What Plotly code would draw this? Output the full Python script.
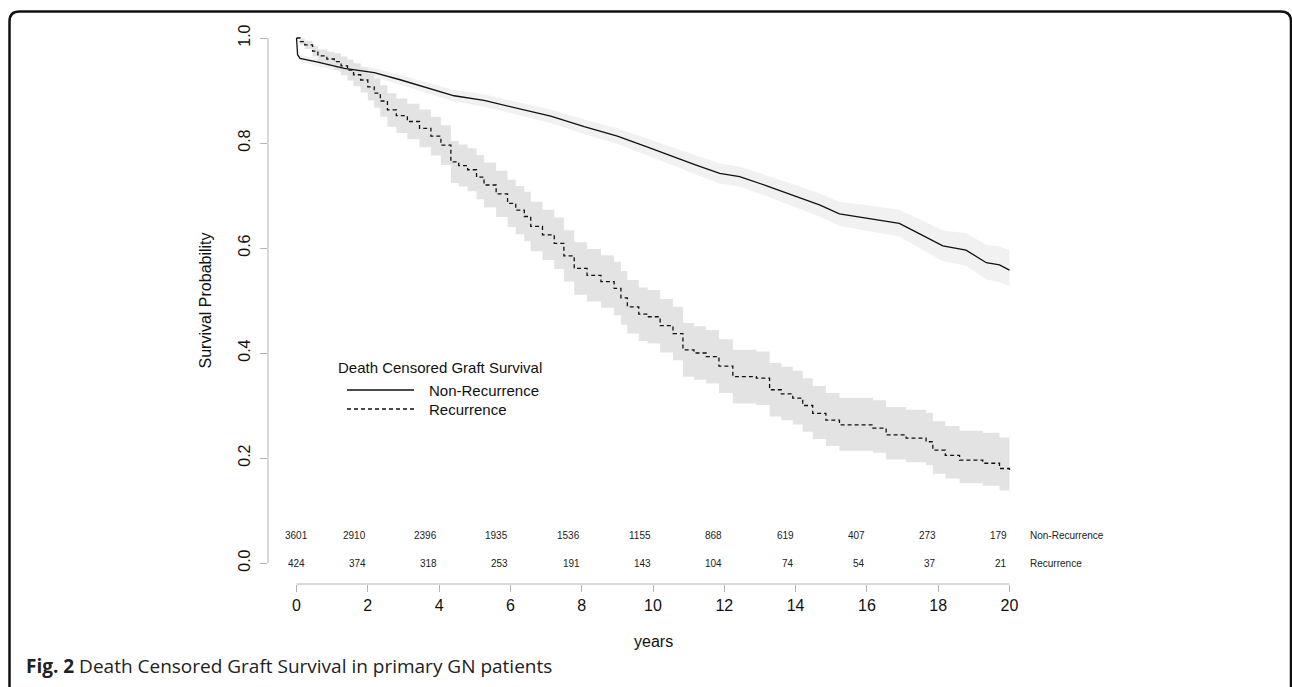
import plotly.graph_objects as go

# ---------------- data ----------------
nr_t = [0, 0.03, 0.1, 0.6, 1.34, 2.18, 2.93, 3.86, 4.42, 5.26, 5.92, 6.67, 7.13, 8.07, 9.0, 9.85,
        10.56, 11.21, 11.87, 12.43, 13.17, 13.92, 14.67, 15.23, 16.17, 16.91, 17.48, 18.13, 18.78,
        19.35, 19.72, 20]
nr_s = [1.0, 0.968, 0.961, 0.954, 0.942, 0.934, 0.92, 0.901, 0.89, 0.881, 0.870, 0.858, 0.851,
        0.831, 0.813, 0.792, 0.775, 0.758, 0.742, 0.736, 0.719, 0.701, 0.682, 0.665, 0.655, 0.647,
        0.627, 0.604, 0.596, 0.572, 0.568, 0.558]
nr_up = [1.0, 0.974, 0.967, 0.961, 0.950, 0.943, 0.929, 0.911, 0.901, 0.893, 0.882, 0.871, 0.864,
         0.845, 0.828, 0.808, 0.792, 0.776, 0.761, 0.755, 0.739, 0.722, 0.704, 0.688, 0.680, 0.673,
         0.655, 0.634, 0.628, 0.606, 0.603, 0.596]
nr_lo = [1.0, 0.962, 0.955, 0.947, 0.934, 0.925, 0.911, 0.891, 0.879, 0.869, 0.858, 0.845, 0.838,
         0.817, 0.798, 0.776, 0.758, 0.740, 0.723, 0.717, 0.699, 0.680, 0.660, 0.642, 0.631, 0.622,
         0.600, 0.575, 0.566, 0.540, 0.535, 0.527]

rc_t = [0, 0.1, 0.23, 0.45, 0.6, 0.85, 1.06, 1.25, 1.43, 1.6, 1.8, 2.0, 2.18, 2.35, 2.55, 2.8, 3.11,
        3.45, 3.77, 4.05, 4.33, 4.55, 4.8, 5.05, 5.26, 5.6, 5.92, 6.15, 6.39, 6.57, 6.9, 7.23, 7.5,
        7.79, 8.15, 8.54, 8.91, 9.1, 9.28, 9.6, 9.85, 10.2, 10.56, 10.84, 11.15, 11.49, 11.85, 12.24,
        12.9, 13.27, 13.6, 13.92, 14.2, 14.48, 14.85, 15.23, 16.17, 16.54, 17.1, 17.66, 17.85, 18.2,
        18.6, 19.25, 19.72, 20]
rc_s = [1.0, 0.993, 0.987, 0.975, 0.966, 0.96, 0.955, 0.947, 0.939, 0.93, 0.92, 0.907, 0.895, 0.88,
        0.863, 0.852, 0.841, 0.828, 0.813, 0.796, 0.764, 0.757, 0.749, 0.735, 0.72, 0.703, 0.685,
        0.672, 0.66, 0.641, 0.625, 0.609, 0.585, 0.561, 0.548, 0.536, 0.523, 0.505, 0.488, 0.474,
        0.469, 0.452, 0.437, 0.406, 0.400, 0.393, 0.375, 0.355, 0.352, 0.33, 0.322, 0.314, 0.3,
        0.285, 0.272, 0.263, 0.257, 0.244, 0.238, 0.231, 0.215, 0.205, 0.196, 0.19, 0.18, 0.172]
rc_up = [1.0, 0.999, 0.995, 0.985, 0.978, 0.974, 0.971, 0.965, 0.959, 0.952, 0.944, 0.933, 0.923,
         0.910, 0.895, 0.885, 0.875, 0.864, 0.850, 0.834, 0.804, 0.797, 0.790, 0.777, 0.763, 0.747,
         0.730, 0.718, 0.707, 0.688, 0.673, 0.658, 0.634, 0.611, 0.598, 0.586, 0.574, 0.556, 0.539,
         0.525, 0.520, 0.503, 0.488, 0.457, 0.451, 0.444, 0.426, 0.406, 0.403, 0.381, 0.374, 0.366,
         0.352, 0.337, 0.324, 0.315, 0.310, 0.297, 0.292, 0.286, 0.270, 0.261, 0.252, 0.248, 0.239,
         0.232]
rc_lo = [1.0, 0.987, 0.979, 0.965, 0.954, 0.946, 0.939, 0.929, 0.919, 0.908, 0.896, 0.881, 0.867,
         0.850, 0.831, 0.819, 0.807, 0.792, 0.776, 0.758, 0.724, 0.717, 0.708, 0.693, 0.677, 0.659,
         0.640, 0.626, 0.613, 0.594, 0.577, 0.560, 0.536, 0.511, 0.498, 0.486, 0.472, 0.454, 0.437,
         0.423, 0.418, 0.401, 0.386, 0.355, 0.349, 0.342, 0.324, 0.304, 0.301, 0.279, 0.272, 0.264,
         0.250, 0.236, 0.223, 0.214, 0.210, 0.197, 0.192, 0.186, 0.170, 0.161, 0.152, 0.147, 0.138,
         0.130]

risk_times = [0, 2, 4, 6, 8, 10, 12, 14, 16, 18, 20]
risk_nonrec = [3601, 2910, 2396, 1935, 1536, 1155, 868, 619, 407, 273, 179]
risk_rec = [424, 374, 318, 253, 191, 143, 104, 74, 54, 37, 21]

x_ticks = [0, 2, 4, 6, 8, 10, 12, 14, 16, 18, 20]
y_ticks = [0.0, 0.2, 0.4, 0.6, 0.8, 1.0]
y_tick_text = ["0.0", "0.2", "0.4", "0.6", "0.8", "1.0"]

group_names = ["Non-Recurrence", "Recurrence"]
legend_title = "Death Censored Graft Survival"
x_title = "years"
y_title = "Survival Probability"

# ---------------- layout geometry (pixels) ----------------
W, H = 1292, 687
L, R, T, B = 268, 1038, 17, 584
PW, PH = R - L, B - T


def px(xp):
    return (xp - L) / PW


def py(yp):
    return (B - yp) / PH


FONT = "Liberation Sans, Arial, sans-serif"
AX_GRAY = "#b4b4b4"

fig = go.Figure()

# confidence bands
fig.add_trace(go.Scatter(x=nr_t, y=nr_lo, mode="lines", line=dict(width=0, shape="linear"),
                         hoverinfo="skip", showlegend=False))
fig.add_trace(go.Scatter(x=nr_t, y=nr_up, mode="lines", line=dict(width=0, shape="linear"),
                         fill="tonexty", fillcolor="#f1f1f1", hoverinfo="skip", showlegend=False))
fig.add_trace(go.Scatter(x=rc_t, y=rc_lo, mode="lines", line=dict(width=0, shape="hv"),
                         hoverinfo="skip", showlegend=False))
fig.add_trace(go.Scatter(x=rc_t, y=rc_up, mode="lines", line=dict(width=0, shape="hv"),
                         fill="tonexty", fillcolor="#e3e3e3", hoverinfo="skip", showlegend=False))

# survival curves
fig.add_trace(go.Scatter(x=nr_t, y=nr_s, mode="lines", name=group_names[0],
                         line=dict(color="#111111", width=1.3, shape="linear"), showlegend=False))
fig.add_trace(go.Scatter(x=rc_t, y=rc_s, mode="lines", name=group_names[1],
                         line=dict(color="#111111", width=1.3, shape="hv", dash="4px,3px"),
                         showlegend=False))

ann = []
# numbers at risk
for i, (t, a, b) in enumerate(zip(risk_times, risk_nonrec, risk_rec)):
    anchor = "center" if i == 0 else "right"
    ann.append(dict(x=t, y=0.053, xref="x", yref="y", text=str(a), showarrow=False,
                    xanchor=anchor, yanchor="middle", font=dict(family=FONT, size=10, color="#222")))
    ann.append(dict(x=t, y=0.0, xref="x", yref="y", text=str(b), showarrow=False,
                    xanchor=anchor, yanchor="middle", font=dict(family=FONT, size=10, color="#222")))
ann.append(dict(x=px(1028), y=0.053, xref="paper", yref="y", text=group_names[0], showarrow=False,
                xanchor="left", yanchor="middle", font=dict(family=FONT, size=10, color="#222")))
ann.append(dict(x=px(1028), y=0.0, xref="paper", yref="y", text=group_names[1], showarrow=False,
                xanchor="left", yanchor="middle", font=dict(family=FONT, size=10, color="#222")))

# legend (drawn manually)
ann.append(dict(x=px(336), y=py(367), xref="paper", yref="paper", text=legend_title,
                showarrow=False, xanchor="left", yanchor="middle",
                font=dict(family=FONT, size=15, color="#111")))
ann.append(dict(x=px(427), y=py(390), xref="paper", yref="paper", text=group_names[0],
                showarrow=False, xanchor="left", yanchor="middle",
                font=dict(family=FONT, size=15, color="#111")))
ann.append(dict(x=px(427), y=py(409), xref="paper", yref="paper", text=group_names[1],
                showarrow=False, xanchor="left", yanchor="middle",
                font=dict(family=FONT, size=15, color="#111")))

# axis titles
ann.append(dict(x=0.5, y=py(641), xref="paper", yref="paper", text=x_title, showarrow=False,
                xanchor="center", yanchor="middle", font=dict(family=FONT, size=16, color="#111")))
ann.append(dict(x=px(205), y=0.5, xref="paper", yref="paper", text=y_title, showarrow=False,
                textangle=-90, xanchor="center", yanchor="middle",
                font=dict(family=FONT, size=16, color="#111")))

# caption
ann.append(dict(x=px(24), y=py(666), xref="paper", yref="paper",
                text="<b>Fig. 2</b> Death Censored Graft Survival in primary GN patients",
                showarrow=False, xanchor="left", yanchor="middle",
                font=dict(family="Open Sans, sans-serif", size=19, color="#222")))

shapes = [
    # legend sample lines
    dict(type="line", xref="paper", yref="paper", x0=px(347), x1=px(414), y0=py(390), y1=py(390),
         line=dict(color="#111", width=1.3)),
    dict(type="line", xref="paper", yref="paper", x0=px(347), x1=px(414), y0=py(409), y1=py(409),
         line=dict(color="#111", width=1.3, dash="4px,3px")),
    # R-style axis lines spanning first to last tick
    dict(type="line", xref="x", yref="paper", x0=x_ticks[0], x1=x_ticks[-1], y0=0, y1=0,
         line=dict(color=AX_GRAY, width=1)),
    dict(type="line", xref="paper", yref="y", x0=0, x1=0, y0=y_ticks[0], y1=y_ticks[-1],
         line=dict(color=AX_GRAY, width=1)),
]

# rounded frame (open at the bottom)
r = 10
fx0, fx1, fy0, fyb = 9.5, 1291, 11.5, 700
path = (f"M {px(fx0)},{py(fyb)} L {px(fx0)},{py(fy0 + r)} Q {px(fx0)},{py(fy0)} {px(fx0 + r)},{py(fy0)} "
        f"L {px(fx1 - r)},{py(fy0)} Q {px(fx1)},{py(fy0)} {px(fx1)},{py(fy0 + r)} L {px(fx1)},{py(fyb)}")
shapes.append(dict(type="path", xref="paper", yref="paper", path=path,
                   line=dict(color="#111", width=2.5)))

fig.update_layout(
    width=W, height=H,
    margin=dict(l=L, r=W - R, t=T, b=H - B),
    paper_bgcolor="white", plot_bgcolor="white",
    showlegend=False,
    annotations=ann, shapes=shapes,
    xaxis=dict(range=[-0.8, 20.8], tickvals=x_ticks, ticktext=[str(v) for v in x_ticks],
               ticks="outside", ticklen=7, tickcolor=AX_GRAY, tickwidth=1,
               showline=False, showgrid=False, zeroline=False,
               tickfont=dict(family=FONT, size=16, color="#111")),
    yaxis=dict(range=[-0.04, 1.04], tickvals=y_ticks, ticktext=y_tick_text,
               ticks="outside", ticklen=7, tickcolor=AX_GRAY, tickwidth=1, tickangle=-90,
               ticklabelstandoff=4,
               showline=False, showgrid=False, zeroline=False,
               tickfont=dict(family=FONT, size=16, color="#111")),
)

fig.write_html("out.html", config={"displayModeBar": False})
